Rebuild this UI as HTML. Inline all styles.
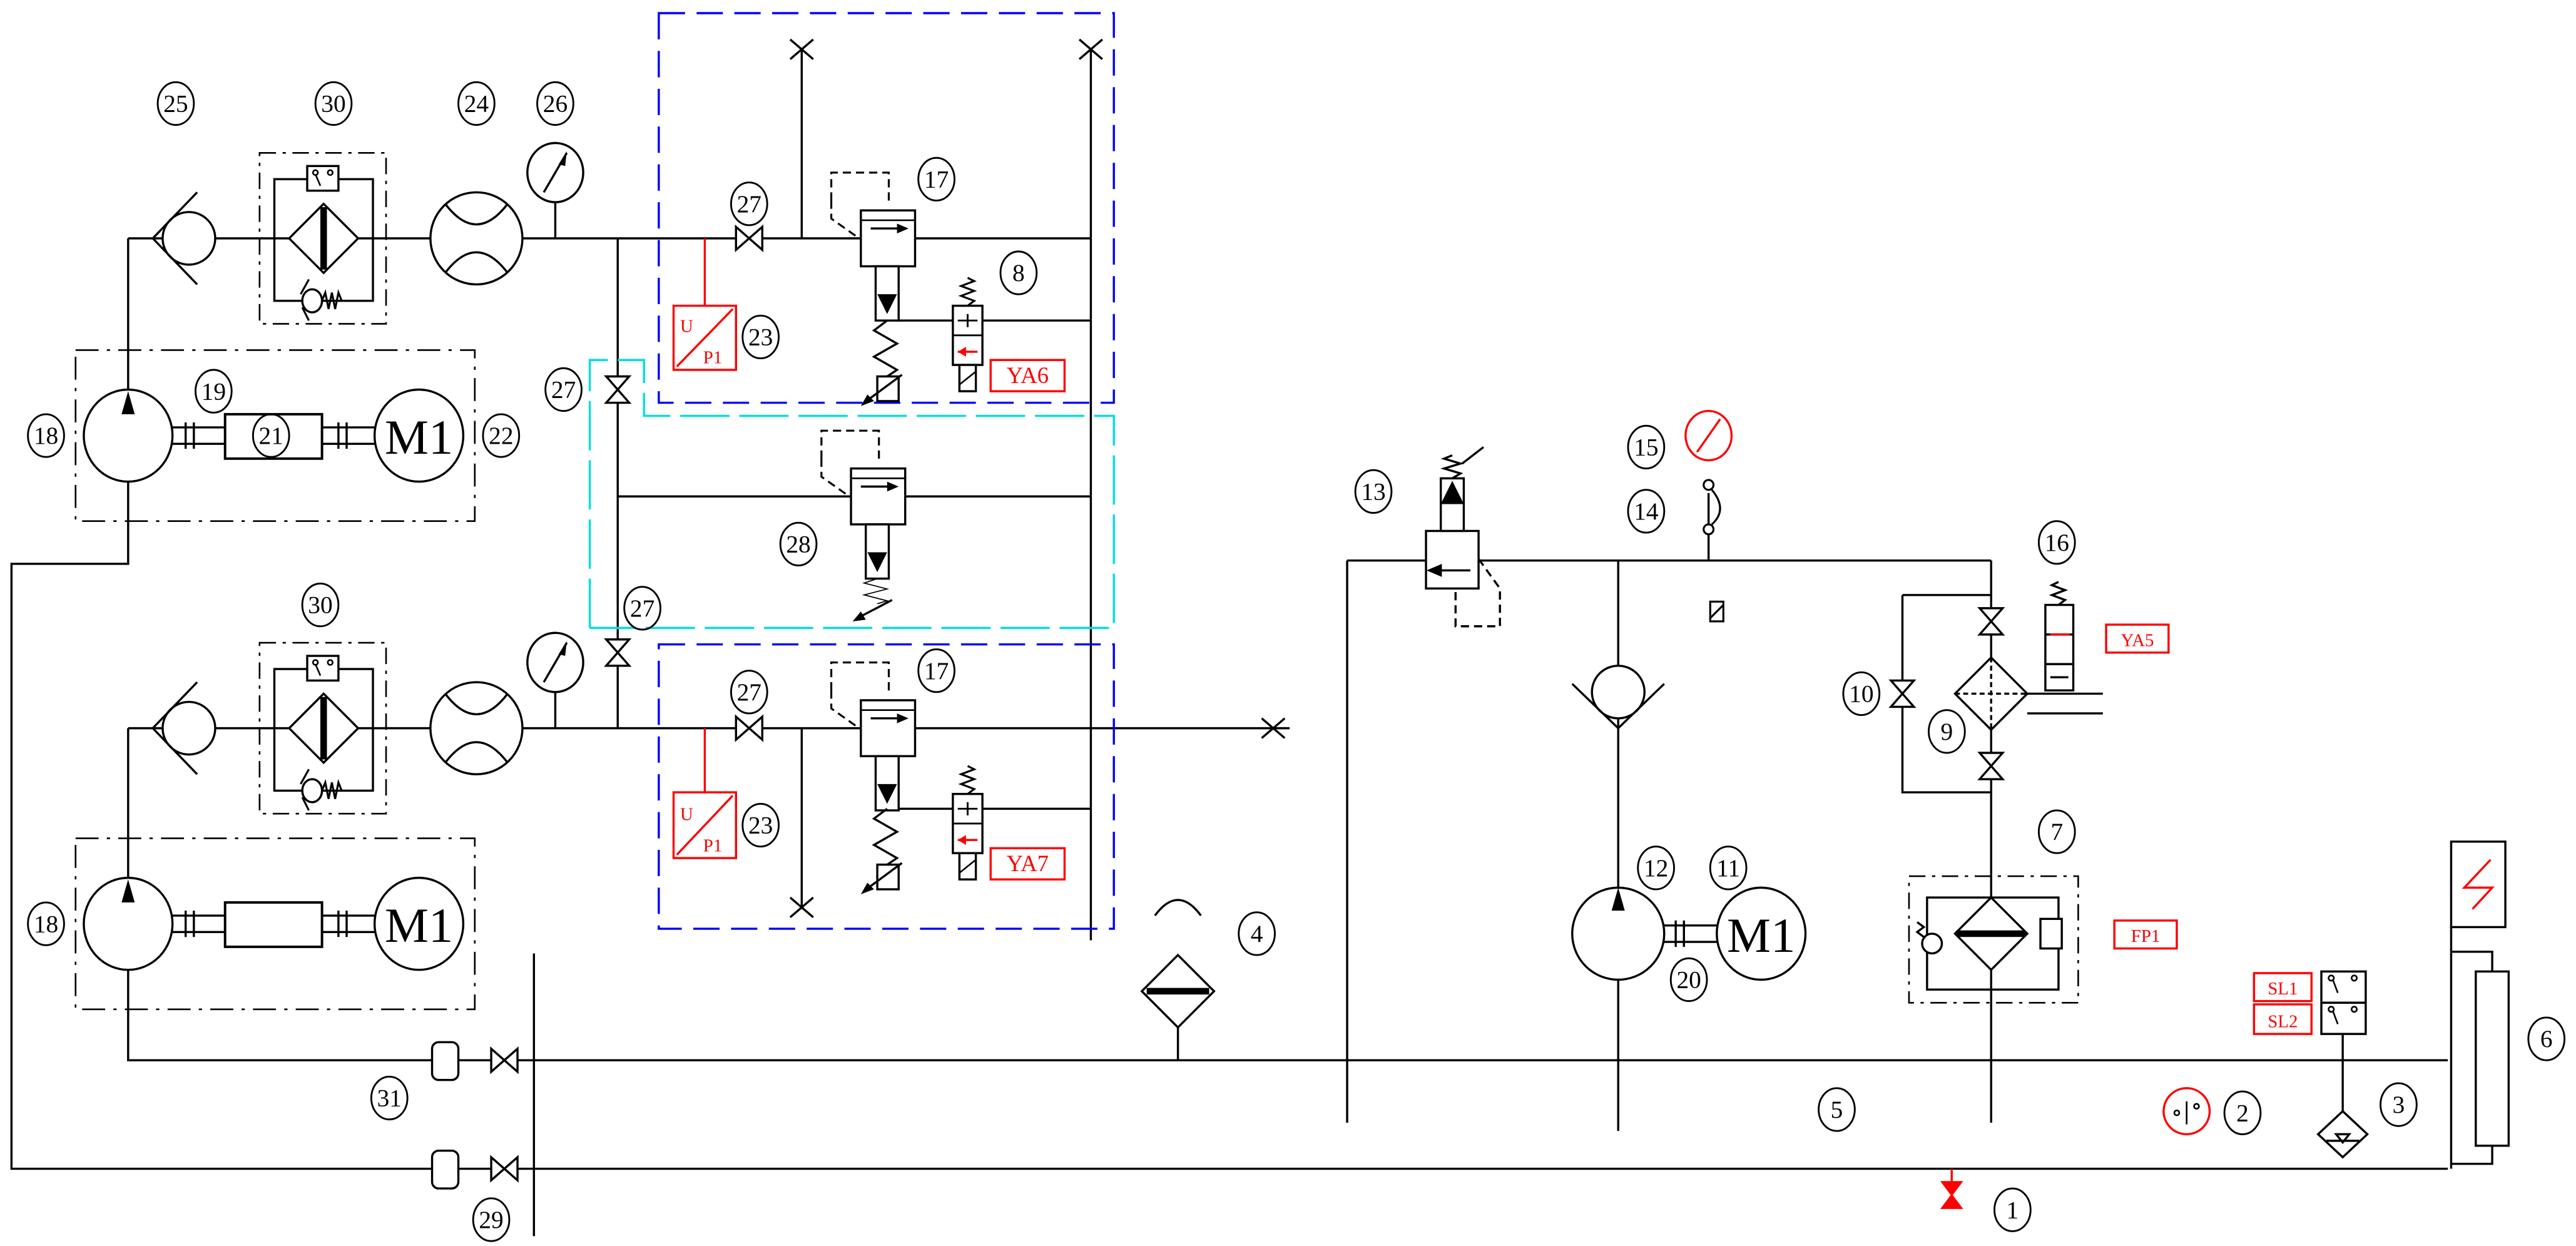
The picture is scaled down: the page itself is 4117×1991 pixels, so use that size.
<!DOCTYPE html>
<html><head><meta charset="utf-8"><style>
html,body{margin:0;padding:0;background:#fff;}
svg{display:block;}
text{font-family:"Liberation Serif",serif;}
</style></head><body>
<svg width="4117" height="1991" viewBox="0 0 1568 758" preserveAspectRatio="none" xmlns="http://www.w3.org/2000/svg">
<defs>
<g id="vh"><path d="M-8,-7 L8,7 L8,-7 L-8,7 Z" fill="#fff" stroke="#000" stroke-width="1.3"/></g>
<g id="vv"><path d="M-7,-8 L7,8 L-7,8 L7,-8 Z" fill="#fff" stroke="#000" stroke-width="1.3"/></g>
<g id="chk"><ellipse cx="22" cy="0" rx="16" ry="16" fill="#fff" stroke="#000" stroke-width="1.3"/><path d="M27,-28 L0,0 L27,28" fill="none" stroke="#000" stroke-width="1.3"/></g>
<g id="filt30">
 <rect x="0" y="0" width="77" height="104" fill="none" stroke="#000" stroke-width="1" stroke-dasharray="10,4,2,4"/>
 <rect x="9" y="16" width="60" height="74" fill="none" stroke="#000" stroke-width="1.3"/>
 <rect x="29" y="8" width="19" height="15" fill="#fff" stroke="#000" stroke-width="1.3"/>
 <circle cx="34" cy="12" r="1.5" fill="none" stroke="#000"/><circle cx="43" cy="12" r="1.5" fill="none" stroke="#000"/>
 <path d="M34,13 L37,20" stroke="#000" fill="none"/>
 <path d="M39,31 L60,52 L39,73 L18,52 Z" fill="#fff" stroke="#000" stroke-width="1.3"/>
 <rect x="37" y="33" width="4" height="38" fill="#000"/>
 <ellipse cx="32" cy="90" rx="6" ry="7" fill="#fff" stroke="#000" stroke-width="1.3"/>
 <path d="M30,77 L25,86 M26,94 L30,102 M38,90 l2,-5 l2,10 l2,-10 l2,10 l2,-10 l2,5" fill="none" stroke="#000" stroke-width="1.2"/>
</g>
<g id="flow"><ellipse cx="0" cy="0" rx="28" ry="28" fill="#fff" stroke="#000" stroke-width="1.3"/>
 <path d="M-19,-21 Q0,4 19,-21 M-19,21 Q0,-4 19,21" fill="none" stroke="#000" stroke-width="1.3"/></g>
<g id="gauge"><ellipse cx="0" cy="0" rx="17" ry="18" fill="#fff" stroke="#000" stroke-width="1.3"/><path d="M-7,12 L7,-12" stroke="#000" stroke-width="1.3"/><path d="M7,-13 L2,-5 L6,-4 Z" fill="#000"/></g>
<g id="pumpgrp">
 <rect x="0" y="0" width="243" height="104" fill="none" stroke="#000" stroke-width="1" stroke-dasharray="14,5,2,5"/>
 <ellipse cx="32" cy="52" rx="27" ry="28" fill="#fff" stroke="#000" stroke-width="1.3"/>
 <path d="M32,25 L28,39 L36,39 Z" fill="#000"/>
 <path d="M59,47 H91 M59,57 H91 M67,44 V60 M72,44 V60" stroke="#000" stroke-width="1.3" fill="none"/>
 <rect x="91" y="39" width="59" height="27" fill="#fff" stroke="#000" stroke-width="1.5"/>
 <path d="M150,47 H182 M150,57 H182 M160,44 V60 M165,44 V60" stroke="#000" stroke-width="1.3" fill="none"/>
 <ellipse cx="209" cy="52" rx="27" ry="28" fill="#fff" stroke="#000" stroke-width="1.3"/>
</g>
<g id="v17">
 <path d="M-18,-23 L-18,-40 L17,-40 L17,-23 M-18,-23 L-18,-12 L-1,0" fill="none" stroke="#000" stroke-width="1.2" stroke-dasharray="5,3"/>
 <rect x="0" y="-17" width="33" height="34" fill="#fff" stroke="#000" stroke-width="1.3"/>
 <path d="M0,-11 H33" stroke="#000" stroke-width="1"/>
 <path d="M6,-6 H27" stroke="#000" stroke-width="1.3"/><path d="M29,-6 L22,-9 L22,-3 Z" fill="#000"/>
 <rect x="9" y="17" width="14" height="33" fill="#fff" stroke="#000" stroke-width="1.3"/>
 <path d="M10,34 L22,34 L16,46 Z" fill="#000"/>
</g>
<g id="spr"><path d="M16,0 L8,6 L22,14 L8,22 L22,30 L16,34" fill="none" stroke="#000" stroke-width="1.3"/>
 <rect x="10" y="34" width="13" height="15" fill="#fff" stroke="#000" stroke-width="1.3"/>
 <path d="M25,33 L2,50" stroke="#000" stroke-width="1.3"/><path d="M0,52 L4,45 L8,49 Z" fill="#000"/></g>
<g id="v8">
 <path d="M9,0 l4,-3 l-8,-3 l8,-3 l-8,-3 l8,-3 l-4,-2" fill="none" stroke="#000" stroke-width="1.2"/>
 <rect x="0" y="0" width="18" height="36" fill="#fff" stroke="#000" stroke-width="1.3"/>
 <path d="M0,18 H18 M3,9 H15 M9,5 V13" stroke="#000" stroke-width="1.1"/>
 <path d="M3,28 H15" stroke="red" stroke-width="1.3"/><path d="M3,28 L8,25 L8,31 Z" fill="red"/>
 <rect x="4" y="36" width="10" height="16" fill="#fff" stroke="#000" stroke-width="1.3"/><path d="M4,48 L14,40" stroke="#000"/>
</g>
</defs>

<g fill="none" stroke="#000" stroke-width="1.3">
<path d="M78,145 H664 M78,145 V237 M78,293 V343 H7 V711 H1490"/>
<path d="M376,145 V443 M488,145 V30 M664,30 V572 M376,302 H664 M546,195 H664"/>
<path d="M481,24 L495,36 M495,24 L481,36 M657,24 L671,36 M671,24 L657,36"/>
<path d="M338,123 V145"/>
<path d="M78,443 H785 M78,443 V535 M78,590 V645 H1490 M488,443 V552 M546,492 H664 M338,421 V443"/>
<path d="M481,546 L495,558 M495,546 L481,558 M768,437 L782,449 M782,437 L768,449"/>
<path d="M325,580 V752"/>
<path d="M717,625 V645"/>
<path d="M820,341 H1212 M820,341 V683 M985,341 V688 M1212,341 V683 M1040,341 V300 M1158,362 H1212 M1158,362 V482 H1212 M1234,422 H1280 M1234,434 H1280"/>
<path d="M1426,629 V676"/>
<path d="M1492,564 V711 M1492,579 H1517 V591 M1517,697 V708 H1492"/>
</g>

<g fill="none" stroke-width="1.3" stroke-dasharray="16,7">
<rect x="401" y="8" width="277" height="237" stroke="#0000ff"/>
<rect x="401" y="392" width="277" height="173" stroke="#0000ff"/>
<path d="M359,382 V219 H392 V253 H678 V382 H359" stroke="#00dede" stroke-dasharray="30,6"/>
</g>

<use href="#chk" x="93" y="145"/>
<use href="#filt30" x="158" y="93"/>
<use href="#flow" x="290" y="145"/>
<use href="#gauge" x="338" y="105"/>
<use href="#vh" x="456" y="145"/>
<use href="#vv" x="376" y="237"/>
<use href="#vv" x="376" y="397"/>
<use href="#v17" x="524" y="145"/>
<use href="#spr" x="524" y="195"/>
<use href="#v8" x="580" y="186"/>
<use href="#pumpgrp" x="46" y="213"/>
<use href="#v17" x="518" y="302"/>
<g transform="translate(518,352) scale(1,0.45)">
 <path d="M16,0 L8,6 L22,14 L8,22 L22,30 L16,34" fill="none" stroke="#000" stroke-width="1.3"/>
</g>
<path d="M543,365 L522,376" stroke="#000" stroke-width="1.3"/><path d="M519,378 L524,372 L527,377 Z" fill="#000"/>
<use href="#chk" x="93" y="443"/>
<use href="#filt30" x="158" y="391"/>
<use href="#flow" x="290" y="443"/>
<use href="#gauge" x="338" y="403"/>
<use href="#vh" x="456" y="443"/>
<use href="#v17" x="524" y="443"/>
<use href="#spr" x="524" y="492"/>
<use href="#v8" x="580" y="483"/>
<use href="#pumpgrp" x="46" y="510"/>

<g fill="#fff" stroke="#000" stroke-width="1.3">
<rect x="263" y="634" width="16" height="23" rx="4"/>
<rect x="263" y="700" width="16" height="23" rx="4"/>
</g>
<use href="#vh" x="307" y="645"/>
<use href="#vh" x="307" y="711"/>

<g fill="#fff" stroke="#000" stroke-width="1.3">
<path d="M717,581 L739,603 L717,625 L695,603 Z"/>
<path d="M703,557 Q717,538 731,557" fill="none"/>
</g>
<rect x="698" y="601" width="38" height="4" fill="#000"/>

<g stroke="#000" stroke-width="1.3" fill="#fff">
<rect x="868" y="323" width="32" height="35"/>
<path d="M871,347 H895" fill="none"/><path d="M870,347 L877,344 L877,350 Z" fill="#000"/>
<path d="M900,340 L913,358 V381 H886 V358" fill="none" stroke-dasharray="5,3"/>
<rect x="877" y="291" width="14" height="32"/>
<path d="M878,306 L890,306 L884,294 Z" fill="#000"/>
<path d="M884,291 l5,-3 l-10,-3 l10,-3 l-10,-3 l5,-2" fill="none"/>
<path d="M890,282 L903,272" fill="none"/>
</g>

<use href="#chk" x="0" y="0" transform="translate(985,443) rotate(-90)"/>
<g fill="#fff" stroke="#000" stroke-width="1.3">
<ellipse cx="985" cy="568" rx="28" ry="28"/>
<path d="M1013,563 H1045 M1013,573 H1045 M1020,560 V576 M1025,560 V576" fill="none"/>
<ellipse cx="1072" cy="568" rx="27" ry="28"/>
</g>
<path d="M985,540 L981,554 L989,554 Z" fill="#000"/>
<g fill="#fff" stroke="#000" stroke-width="1.2">
<circle cx="1040" cy="295" r="3"/><circle cx="1040" cy="322" r="3"/>
<path d="M1042,298 Q1052,310 1042,319" fill="none"/>
<rect x="1041" y="366" width="8" height="12"/><path d="M1041,376 L1049,368" fill="none"/>
</g>
<g fill="#fff" stroke="#000" stroke-width="1.3">
<path d="M1212,400 L1234,422 L1212,444 L1190,422 Z"/>
<path d="M1190,422 H1234 M1212,400 V444" stroke-dasharray="3,2" fill="none"/>
</g>
<use href="#vv" x="1212" y="378"/>
<use href="#vv" x="1212" y="466"/>
<use href="#vv" x="1158" y="422"/>
<g stroke="#000" stroke-width="1.3" fill="#fff">
<path d="M1253,368 l4,-3 l-8,-3 l8,-3 l-8,-3 l4,-2" fill="none"/>
<rect x="1245" y="368" width="17" height="36"/>
<path d="M1245,386 H1262 M1248,412 H1259" fill="none"/>
<rect x="1245" y="404" width="17" height="16" fill="none"/>
</g>
<path d="M1248,386 H1260" stroke="red" stroke-width="1.3"/>
<rect x="1162" y="533" width="103" height="77" fill="none" stroke="#000" stroke-width="1" stroke-dasharray="10,4,2,4"/>
<g fill="#fff" stroke="#000" stroke-width="1.3">
<rect x="1173" y="546" width="80" height="56" fill="none"/>
<path d="M1212,546 L1234,568 L1212,590 L1190,568 Z"/>
<rect x="1242" y="559" width="13" height="18"/>
<ellipse cx="1176" cy="574" rx="6" ry="6"/>
<path d="M1167,561 l4,3 l-4,3 l4,3" fill="none"/>
</g>
<rect x="1191" y="566" width="42" height="4" fill="#000"/>
<g fill="#fff" stroke="#000" stroke-width="1.3">
<rect x="1413" y="591" width="27" height="38"/><path d="M1413,610 H1440" fill="none"/>
<path d="M1426,676 L1441,690 L1426,704 L1411,690 Z"/><path d="M1416,694 H1436 M1422,690 L1426,695 L1430,690 Z" fill="none"/>
<rect x="1492" y="512" width="33" height="52"/>
<rect x="1507" y="591" width="20" height="106"/>
</g>
<g stroke="#000" fill="none" stroke-width="1"><circle cx="1419" cy="595" r="1.6"/><circle cx="1433" cy="595" r="1.6"/><path d="M1420,596 L1423,604"/>
<circle cx="1419" cy="614" r="1.6"/><circle cx="1433" cy="614" r="1.6"/><path d="M1420,615 L1423,623"/></g>
<path d="M1182,719 L1194,735 L1182,735 L1194,719 Z" fill="red" stroke="red"/>
<path d="M1188,711 V727" stroke="red" stroke-width="1.3"/>

<g stroke="red" fill="none" stroke-width="1.3">
<path d="M429,145 V186 M429,443 V482"/>
<rect x="410" y="186" width="38" height="39"/><path d="M412,223 L446,188"/>
<rect x="410" y="482" width="38" height="40"/><path d="M412,520 L446,484"/>
<rect x="603" y="219" width="45" height="19"/>
<rect x="603" y="516" width="45" height="19"/>
<rect x="1282" y="380" width="38" height="17"/>
<rect x="1287" y="560" width="38" height="17"/>
<rect x="1372" y="592" width="35" height="17"/>
<rect x="1372" y="611" width="35" height="18"/>
<ellipse cx="1331" cy="676" rx="14" ry="14"/>
<ellipse cx="1040" cy="265" rx="14" ry="15"/><path d="M1033,275 L1047,255"/>
<path d="M1505,553 L1517,540 L1500,540 L1516,523"/>
</g>
<g fill="red" font-size="11">
<text x="414" y="202">U</text><text x="428" y="221">P1</text>
<text x="414" y="499">U</text><text x="428" y="518">P1</text>
<text x="625.5" y="233" font-size="14" text-anchor="middle">YA6</text>
<text x="625.5" y="530" font-size="14" text-anchor="middle">YA7</text>
<text x="1301" y="393" text-anchor="middle">YA5</text>
<text x="1306" y="573" text-anchor="middle">FP1</text>
<text x="1389.5" y="605" text-anchor="middle">SL1</text>
<text x="1389.5" y="625" text-anchor="middle">SL2</text>
</g>
<circle cx="1325" cy="677" r="1.5" fill="none" stroke="#000"/><circle cx="1337" cy="673" r="1.5" fill="none" stroke="#000"/><path d="M1331,670 V684" stroke="#000"/>

<g fill="none" stroke="#000" stroke-width="1.1">
<ellipse cx="107" cy="63" rx="11" ry="13"/><ellipse cx="203" cy="63" rx="11" ry="13"/>
<ellipse cx="290" cy="63" rx="11" ry="13"/><ellipse cx="338" cy="63" rx="11" ry="13"/>
<ellipse cx="456" cy="124" rx="11" ry="13"/><ellipse cx="570" cy="109" rx="11" ry="13"/>
<ellipse cx="620" cy="166" rx="11" ry="13"/><ellipse cx="463" cy="205" rx="11" ry="13"/>
<ellipse cx="130" cy="238" rx="11" ry="13"/><ellipse cx="165" cy="265" rx="11" ry="13"/>
<ellipse cx="28" cy="265" rx="11" ry="13"/><ellipse cx="305" cy="265" rx="11" ry="13"/>
<ellipse cx="343" cy="237" rx="11" ry="13"/><ellipse cx="486" cy="331" rx="11" ry="13"/>
<ellipse cx="195" cy="368" rx="11" ry="13"/><ellipse cx="391" cy="370" rx="11" ry="13"/>
<ellipse cx="456" cy="421" rx="11" ry="13"/><ellipse cx="570" cy="408" rx="11" ry="13"/>
<ellipse cx="463" cy="502" rx="11" ry="13"/><ellipse cx="28" cy="562" rx="11" ry="13"/>
<ellipse cx="765" cy="568" rx="11" ry="13"/><ellipse cx="237" cy="668" rx="11" ry="13"/>
<ellipse cx="299" cy="742" rx="11" ry="13"/><ellipse cx="836" cy="299" rx="11" ry="13"/>
<ellipse cx="1002" cy="272" rx="11" ry="13"/><ellipse cx="1002" cy="311" rx="11" ry="13"/>
<ellipse cx="1008" cy="528" rx="11" ry="13"/><ellipse cx="1052" cy="528" rx="11" ry="13"/>
<ellipse cx="1028" cy="596" rx="11" ry="13"/><ellipse cx="1252" cy="330" rx="11" ry="13"/>
<ellipse cx="1133" cy="422" rx="11" ry="13"/><ellipse cx="1185" cy="445" rx="11" ry="13"/>
<ellipse cx="1252" cy="506" rx="11" ry="13"/><ellipse cx="1118" cy="675" rx="11" ry="13"/>
<ellipse cx="1365" cy="677" rx="11" ry="13"/><ellipse cx="1460" cy="672" rx="11" ry="13"/>
<ellipse cx="1550" cy="632" rx="11" ry="13"/><ellipse cx="1225" cy="736" rx="11" ry="13"/>
</g>
<g font-size="15" text-anchor="middle" fill="#000">
<text x="107" y="68">25</text><text x="203" y="68">30</text><text x="290" y="68">24</text><text x="338" y="68">26</text>
<text x="456" y="129">27</text><text x="570" y="114">17</text><text x="620" y="171">8</text><text x="463" y="210">23</text>
<text x="130" y="243">19</text><text x="165" y="270">21</text><text x="28" y="270">18</text><text x="305" y="270">22</text>
<text x="343" y="242">27</text><text x="486" y="336">28</text><text x="195" y="373">30</text><text x="391" y="375">27</text>
<text x="456" y="426">27</text><text x="570" y="413">17</text><text x="463" y="507">23</text><text x="28" y="567">18</text>
<text x="765" y="573">4</text><text x="237" y="673">31</text><text x="299" y="747">29</text><text x="836" y="304">13</text>
<text x="1002" y="277">15</text><text x="1002" y="316">14</text><text x="1008" y="533">12</text><text x="1052" y="533">11</text>
<text x="1028" y="601">20</text><text x="1252" y="335">16</text><text x="1133" y="427">10</text><text x="1185" y="450">9</text>
<text x="1252" y="511">7</text><text x="1118" y="680">5</text><text x="1365" y="682">2</text><text x="1460" y="677">3</text>
<text x="1550" y="637">6</text><text x="1225" y="741">1</text>
<text x="255" y="276" font-size="30">M1</text><text x="255" y="573" font-size="30">M1</text><text x="1072" y="579" font-size="30">M1</text>
</g>
</svg>
</body></html>
